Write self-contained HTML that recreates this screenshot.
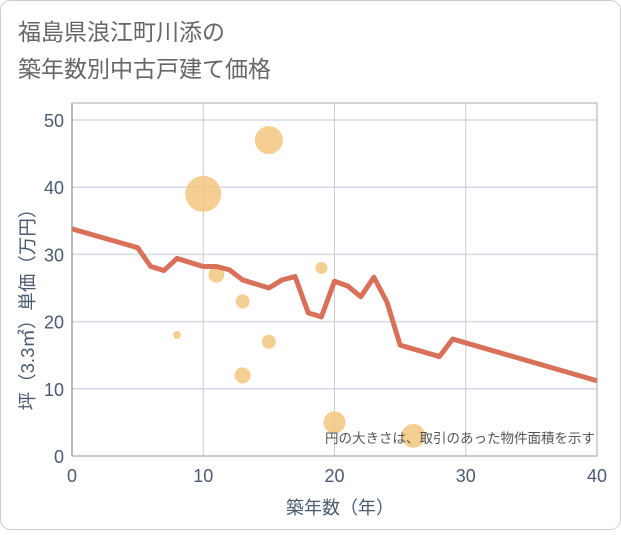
<!DOCTYPE html>
<html><head><meta charset="utf-8"><style>
body{margin:0;background:#fff;font-family:"Liberation Sans","Noto Sans CJK JP",sans-serif;}
</style></head><body>
<svg width="621" height="530" xmlns="http://www.w3.org/2000/svg">
<rect x="0.5" y="0.5" width="620" height="529" rx="10" fill="#fff" stroke="#ccc"/>
<text x="18" y="40" font-size="23" fill="#666">福島県浪江町川添の</text>
<text x="18" y="77" font-size="23" fill="#666">築年数別中古戸建て価格</text>
<g id="grid"></g>
<rect x="72" y="103" width="525" height="353" fill="none" stroke="#aaa"/>
<g id="bubbles"></g>
<path id="line" fill="none" stroke="#d9705a" stroke-width="5" stroke-linejoin="round"/>
<g id="ticks"></g>
<text x="595" y="443" font-size="13.5" fill="#555" text-anchor="end">円の大きさは、取引のあった物件面積を示す</text>
<text x="340" y="514" font-size="18" fill="#4a5a70" text-anchor="middle">築年数（年）</text>
<text transform="translate(34,305) rotate(-90)" font-size="18.5" fill="#4a5a70" text-anchor="middle">坪（3.3㎡）単価（万円）</text>
</svg>
<script>
const xTicks=[0,10,20,30,40];
const yTicks=[0,10,20,30,40,50];
const lineX=[0,5,6,7,8,10,11,12,13,15,16,17,18,19,20,21,22,23,24,25,28,29,40];
const lineY=[33.8,31,28.2,27.6,29.4,28.2,28.2,27.7,26.2,25,26.2,26.7,21.3,20.7,26,25.3,23.7,26.6,22.9,16.5,14.8,17.4,11.2];
const bubX=[10,15,11,13,8,13,15,19,20,26];
const bubY=[39,47,27,23,18,12,17,28,5,3];
const bubR=[18,14,8,7,4,8,7,6,11,12];
const NS="http://www.w3.org/2000/svg";
const sx=v=>72+v*13.125, sy=v=>456-v*6.72;
const grid=document.getElementById('grid'),ticks=document.getElementById('ticks');
function mk(t,a,p){const e=document.createElementNS(NS,t);for(const k in a)e.setAttribute(k,a[k]);p.appendChild(e);return e;}
yTicks.forEach(v=>{
 const l=mk('line',{x1:72,x2:597,y1:sy(v),y2:sy(v),stroke:'#d0dce8','stroke-width':1.5},grid);
 
 
 const t=mk('text',{x:64,y:sy(v)+7,'font-size':18,fill:'#4a5a70','text-anchor':'end'},ticks);t.textContent=v;
 
 
});
xTicks.forEach(v=>{
 const l=mk('line',{x1:sx(v),x2:sx(v),y1:103,y2:456,stroke:'#ccc'},grid);
 
 
 const t=mk('text',{x:sx(v),y:482,'font-size':18,fill:'#4a5a70','text-anchor':'middle'},ticks);t.textContent=v;
 
 
});
mk('line',{x1:72,x2:72,y1:103,y2:456,stroke:'#8a9aaa','stroke-width':1.5},grid);
const bg=document.getElementById('bubbles');
bubX.forEach((x,i)=>{
 const c=mk('circle',{cx:sx(x),cy:sy(bubY[i]),r:bubR[i],fill:'#f3c67f','fill-opacity':0.85},bg);
 
 
});
document.getElementById('line').setAttribute('d',lineX.map((x,i)=>(i?'L':'M')+sx(x)+','+sy(lineY[i])).join(''));
</script>
</body></html>
